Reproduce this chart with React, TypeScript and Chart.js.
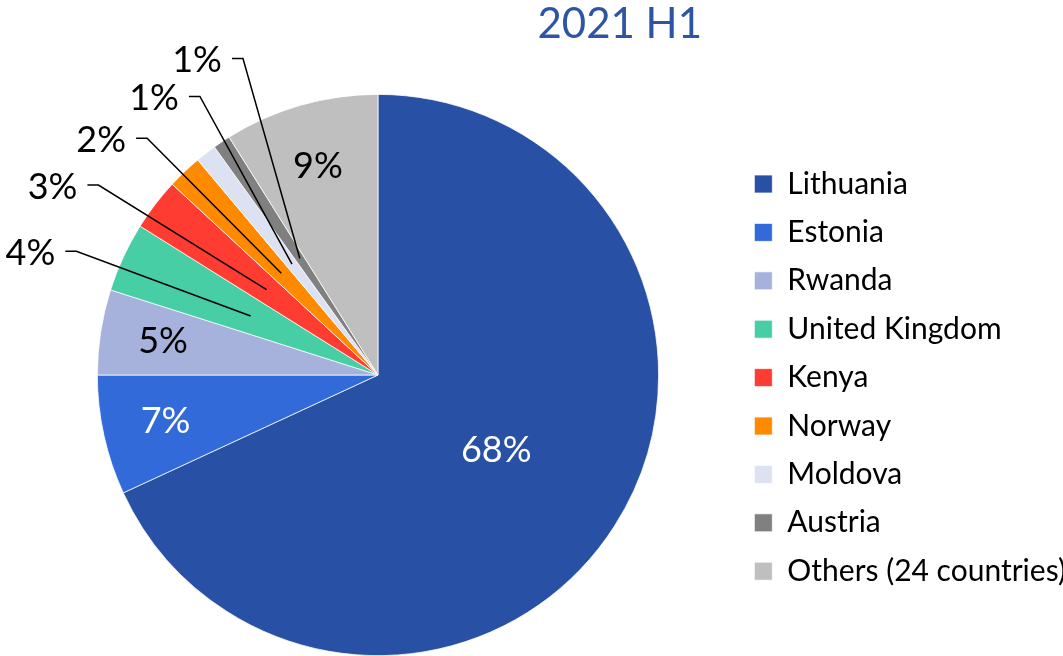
import React, { useEffect, useRef } from 'react';
import { Chart, registerables } from 'chart.js';

Chart.register(...registerables);

// ---- data ----
const titleText = '2021 H1';
const categories = [
  'Lithuania',
  'Estonia',
  'Rwanda',
  'United Kingdom',
  'Kenya',
  'Norway',
  'Moldova',
  'Austria',
  'Others (24 countries)',
];
const shares = [68.1, 6.9, 4.9, 4.0, 3.0, 2.0, 1.2, 1.0, 8.9];
const percentLabels = ['68%', '7%', '5%', '4%', '3%', '2%', '1%', '1%', '9%'];

// ---- styles ----
const sliceColors = [
  '#2850A4',
  '#336AD9',
  '#A6B2DB',
  '#47CEA5',
  '#FF3C32',
  '#FF8A00',
  '#DDE2F3',
  '#808080',
  '#BFBFBF',
];
const labelColors = ['#FFFFFF', '#FFFFFF', '#000000', '#000000', '#000000', '#000000', '#000000', '#000000', '#000000'];
// callout label placement for thin slices: [angle in degrees clockwise from top, distance as multiple of radius]
const calloutPlacement: (number[] | null)[] = [
  null,
  null,
  null,
  [289.3, 1.312],
  [300.0, 1.339],
  [310.3, 1.293],
  [321.0, 1.268],
  [330.1, 1.293],
  null,
];
const FONT = 'Lato';
const TITLE_SIZE = 42;
const LABEL_SIZE = 36;
const LEGEND_SIZE = 30;

const sliceLabelPlugin = {
  id: 'sliceLabels',
  afterDatasetsDraw(chart: any) {
    const meta = chart.getDatasetMeta(0);
    const ctx = chart.ctx as CanvasRenderingContext2D;
    ctx.save();
    ctx.font = `${LABEL_SIZE}px ${FONT}`;
    ctx.textBaseline = 'middle';
    ctx.textAlign = 'center';
    meta.data.forEach((arc: any, i: number) => {
      const p = arc.getProps(['x', 'y', 'startAngle', 'endAngle', 'outerRadius'], true);
      const mid = (p.startAngle + p.endAngle) / 2;
      const text = percentLabels[i];
      const place = calloutPlacement[i];
      ctx.fillStyle = labelColors[i];
      if (place) {
        const a = (place[0] * Math.PI) / 180 - Math.PI / 2;
        const tx = p.x + Math.cos(a) * place[1] * p.outerRadius;
        const ty = p.y + Math.sin(a) * place[1] * p.outerRadius;
        ctx.fillText(text, tx, ty);
        const w = ctx.measureText(text).width;
        const ex = p.x + Math.cos(mid) * p.outerRadius * 0.5;
        const ey = p.y + Math.sin(mid) * p.outerRadius * 0.5;
        ctx.strokeStyle = '#000000';
        ctx.lineWidth = 1.5;
        ctx.beginPath();
        ctx.moveTo(tx + w / 2 + 10, ty - 2);
        ctx.lineTo(tx + w / 2 + 21, ty - 2);
        ctx.lineTo(ex, ey);
        ctx.stroke();
      } else {
        const rf = shares[i] > 50 ? 0.5 : 0.775;
        const tx = p.x + Math.cos(mid) * p.outerRadius * rf;
        const ty = p.y + Math.sin(mid) * p.outerRadius * rf;
        ctx.fillText(text, tx, ty);
      }
    });
    ctx.restore();
  },
};

const titlePlugin = {
  id: 'offsetTitle',
  afterDraw(chart: any) {
    const ctx = chart.ctx as CanvasRenderingContext2D;
    ctx.save();
    ctx.font = `${TITLE_SIZE}px ${FONT}`;
    ctx.fillStyle = '#2E55A5';
    ctx.textAlign = 'center';
    ctx.textBaseline = 'middle';
    ctx.fillText(titleText, chart.width * 0.583, 24);
    ctx.restore();
  },
};

export default function App() {
  const canvasRef = useRef<HTMLCanvasElement | null>(null);

  useEffect(() => {
    document.body.style.margin = '0';
    const canvas = canvasRef.current;
    if (!canvas) return;
    const chart = new Chart(canvas, {
      type: 'pie',
      data: {
        labels: categories,
        datasets: [
          {
            data: shares,
            backgroundColor: sliceColors,
            borderColor: '#FFFFFF',
            borderWidth: 0.75,
          },
        ],
      },
      options: {
        responsive: false,
        animation: false,
        layout: { padding: { left: 20, right: -13, top: 94, bottom: 0 } },
        plugins: {
          title: { display: false },
          tooltip: { enabled: false },
          legend: {
            position: 'right',
            title: { display: true, text: ' ', font: { size: 1 }, padding: 2 },
            labels: {
              font: { family: FONT, size: LEGEND_SIZE },
              color: '#000000',
              boxWidth: 18,
              boxHeight: 18,
              padding: 18.4,
            },
          },
        },
      },
      plugins: [sliceLabelPlugin, titlePlugin],
    });
    return () => chart.destroy();
  }, []);

  return (
    <div style={{ width: 1063, height: 656 }}>
      <canvas ref={canvasRef} width={1063} height={656} />
    </div>
  );
}
